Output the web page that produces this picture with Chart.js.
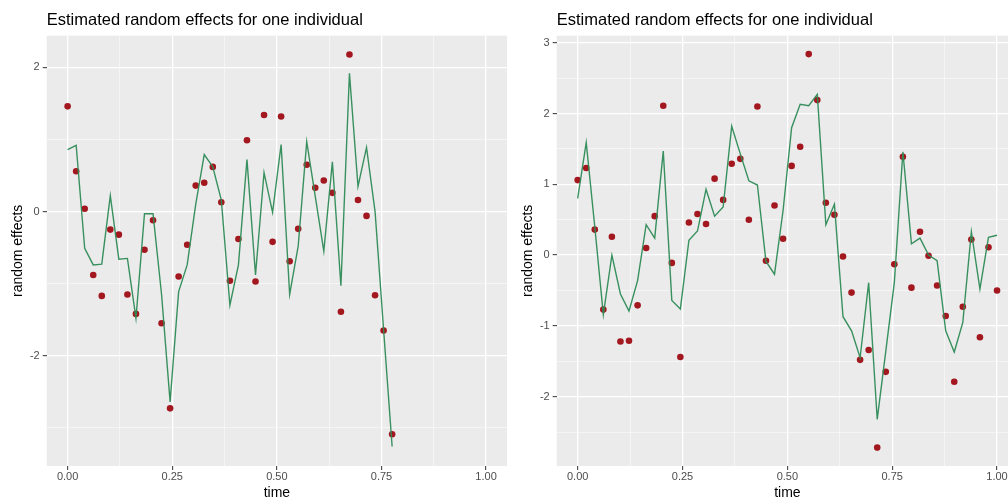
<!DOCTYPE html>
<html>
<head>
<meta charset="utf-8">
<script src="https://cdn.jsdelivr.net/npm/chart.js@4"></script>
<style>
  html, body { margin: 0; padding: 0; background: #fff; overflow: hidden; }
  #wrap { position: relative; width: 1008px; height: 503px; overflow: hidden; }
  #left { position: absolute; left: 0; top: 0; }
  #right { position: absolute; left: 510px; top: 0; }
</style>
</head>
<body>
<div id="wrap">
  <canvas id="left" width="515" height="503"></canvas>
  <canvas id="right" width="516" height="503"></canvas>
</div>
<script>
// time points (50 equally spaced visits on [0, 1])
const times = [0, 0.0204, 0.0408, 0.0612, 0.0816, 0.1020, 0.1224, 0.1429, 0.1633, 0.1837,
  0.2041, 0.2245, 0.2449, 0.2653, 0.2857, 0.3061, 0.3265, 0.3469, 0.3673, 0.3878,
  0.4082, 0.4286, 0.4490, 0.4694, 0.4898, 0.5102, 0.5306, 0.5510, 0.5714, 0.5918,
  0.6122, 0.6327, 0.6531, 0.6735, 0.6939, 0.7143, 0.7347, 0.7551, 0.7755, 0.7959,
  0.8163, 0.8367, 0.8571, 0.8776, 0.8980, 0.9184, 0.9388, 0.9592, 0.9796, 1.0000];

// left panel: observed (dots) and estimated (line)
const leftObserved = [1.46, 0.56, 0.04, -0.88, -1.17, -0.25, -0.32, -1.15, -1.42, -0.53,
  -0.12, -1.55, -2.73, -0.90, -0.46, 0.36, 0.40, 0.62, 0.13, -0.96,
  -0.38, 0.99, -0.97, 1.34, -0.42, 1.32, -0.69, -0.24, 0.65, 0.33,
  0.43, 0.26, -1.39, 2.18, 0.16, -0.06, -1.16, -1.65, -3.09];
const leftEstimated = [0.86, 0.92, -0.51, -0.74, -0.73, 0.22, -0.66, -0.65, -1.48, -0.03,
  -0.03, -1.15, -2.64, -1.11, -0.74, 0.10, 0.79, 0.62, 0.16, -1.30,
  -0.74, 0.72, -0.88, 0.54, -0.01, 0.93, -1.15, -0.48, 0.97, 0.21,
  -0.55, 0.69, -1.03, 1.92, 0.35, 0.89, 0.00, -1.64, -3.26];

// right panel
const rightObserved = [1.06, 1.23, 0.36, -0.77, 0.26, -1.22, -1.21, -0.71, 0.10, 0.55,
  2.11, -0.11, -1.44, 0.46, 0.58, 0.44, 1.08, 0.78, 1.29, 1.36,
  0.50, 2.10, -0.08, 0.70, 0.23, 1.26, 1.53, 2.84, 2.19, 0.74,
  0.57, -0.02, -0.53, -1.48, -1.34, -2.72, -1.65, -0.13, 1.39, -0.46,
  0.33, -0.01, -0.43, -0.86, -1.79, -0.73, 0.22, -1.16, 0.11, -0.50];
const rightEstimated = [0.80, 1.59, 0.40, -0.84, 0.00, -0.55, -0.79, -0.36, 0.43, 0.24,
  1.47, -0.64, -0.76, 0.21, 0.34, 0.93, 0.55, 0.68, 1.82, 1.43,
  1.05, 0.99, -0.09, -0.27, 0.63, 1.80, 2.13, 2.11, 2.27, 0.43,
  0.72, -0.87, -1.07, -1.45, -0.39, -2.32, -1.36, -0.39, 1.46, 0.16,
  0.24, 0.00, -0.08, -1.07, -1.37, -0.95, 0.33, -0.48, 0.25, 0.28];

// ticks
const xMajorTicks = [0, 0.25, 0.5, 0.75, 1];
const xMinorTicks = [0.125, 0.375, 0.625, 0.875];
const yMajorLeft = [-2, 0, 2];
const yMinorLeft = [-3, -1, 1];
const yMajorRight = [-2, -1, 0, 1, 2, 3];
const yMinorRight = [-2.5, -1.5, -0.5, 0.5, 1.5, 2.5];

const titleText = 'Estimated random effects for one individual';
const FONT = "'Liberation Sans', Arial, Helvetica, sans-serif";

const panelPlugin = {
  id: 'panel',
  beforeDraw(chart) {
    const { ctx, chartArea: a } = chart;
    ctx.save();
    ctx.fillStyle = '#EBEBEB';
    ctx.fillRect(a.left, a.top, a.right - a.left, a.bottom - a.top);
    ctx.restore();
  },
  afterDraw(chart) {
    const { ctx, chartArea: a } = chart;
    ctx.save();
    ctx.font = '16.5px ' + FONT;
    ctx.fillStyle = '#000';
    ctx.textAlign = 'left';
    ctx.textBaseline = 'alphabetic';
    ctx.fillText(titleText, a.left, 25);
    ctx.restore();
  }
};

function toPoints(xs, ys) {
  return ys.map((y, i) => ({ x: xs[i], y: y }));
}

function makeChart(id, xs, observed, estimated, yMin, yMax, yMajor, yMinor) {
  const isMajorY = v => yMajor.includes(v);
  const isMajorX = v => xMajorTicks.includes(v);
  return new Chart(document.getElementById(id), {
    type: 'scatter',
    data: {
      datasets: [
        {
          type: 'line',
          data: toPoints(xs, estimated),
          borderColor: 'rgba(46,139,87,0.95)',
          borderWidth: 1.4,
          pointRadius: 0,
          tension: 0,
          fill: false,
          order: 0
        },
        {
          data: toPoints(xs, observed),
          backgroundColor: '#A3171F',
          borderColor: '#A3171F',
          borderWidth: 0,
          pointRadius: 3.3,
          order: 1
        }
      ]
    },
    options: {
      responsive: false,
      animation: false,
      layout: { padding: { top: 35.7, right: 8, left: 0, bottom: 0 } },
      plugins: { legend: { display: false }, tooltip: { enabled: false } },
      scales: {
        x: {
          type: 'linear',
          min: -0.05,
          max: 1.05,
          afterBuildTicks: s => { s.ticks = [...xMajorTicks, ...xMinorTicks].sort((a, b) => a - b).map(v => ({ value: v })); },
          afterFit: s => { s.height = 37; },
          border: { display: false },
          grid: {
            color: c => isMajorX(c.tick.value) ? '#FFFFFF' : 'rgba(255,255,255,0.7)',
            lineWidth: c => isMajorX(c.tick.value) ? 1.3 : 0.7,
            tickColor: c => isMajorX(c.tick.value) ? '#333333' : 'rgba(0,0,0,0)',
            tickLength: 4,
            tickWidth: 1
          },
          ticks: {
            autoSkip: false,
            maxRotation: 0,
            padding: 0,
            color: '#4D4D4D',
            font: { family: FONT, size: 11 },
            callback: v => isMajorX(v) ? v.toFixed(2) : ''
          },
          title: {
            display: true,
            text: 'time',
            color: '#000',
            font: { family: FONT, size: 14 },
            padding: { top: 0, bottom: 1 }
          }
        },
        y: {
          type: 'linear',
          min: yMin,
          max: yMax,
          afterBuildTicks: s => { s.ticks = [...yMajor, ...yMinor].sort((a, b) => a - b).map(v => ({ value: v })); },
          afterFit: s => { s.width = 46.7; },
          border: { display: false },
          grid: {
            color: c => isMajorY(c.tick.value) ? '#FFFFFF' : 'rgba(255,255,255,0.7)',
            lineWidth: c => isMajorY(c.tick.value) ? 1.3 : 0.7,
            tickColor: c => isMajorY(c.tick.value) ? '#333333' : 'rgba(0,0,0,0)',
            tickLength: 4,
            tickWidth: 1
          },
          ticks: {
            autoSkip: false,
            padding: 3,
            color: '#4D4D4D',
            font: { family: FONT, size: 11 },
            callback: v => isMajorY(v) ? String(v) : ''
          },
          title: {
            display: true,
            text: 'random effects',
            color: '#000',
            font: { family: FONT, size: 14 },
            padding: { top: 9.6, bottom: 0 }
          }
        }
      }
    },
    plugins: [panelPlugin]
  });
}

makeChart('left', times.slice(0, leftObserved.length), leftObserved, leftEstimated,
  -3.53, 2.44, yMajorLeft, yMinorLeft);
makeChart('right', times, rightObserved, rightEstimated,
  -2.98, 3.10, yMajorRight, yMinorRight);
</script>
</body>
</html>
